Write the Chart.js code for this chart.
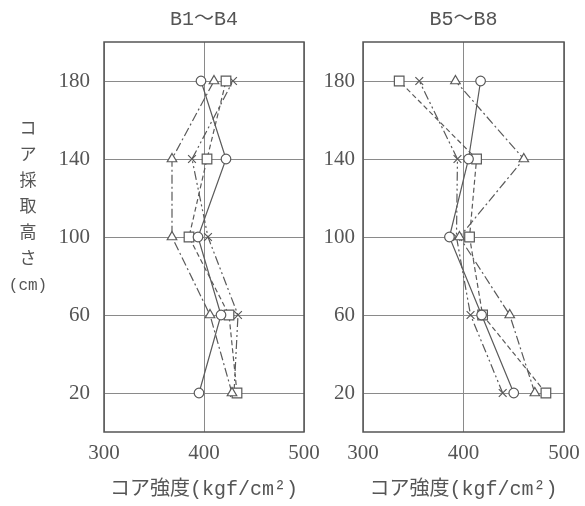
<!DOCTYPE html>
<html>
<head>
<meta charset="utf-8">
<script src="https://cdn.jsdelivr.net/npm/chart.js@4.4.1/dist/chart.umd.min.js"></script>
<style>
  html, body { margin: 0; padding: 0; background: #fff; }
  #wrap { position: relative; width: 585px; height: 506px; overflow: hidden; }
  canvas { position: absolute; top: 0; }
  #ytitle { position: absolute; left: 8px; top: 114px; width: 40px; text-align: center;
            font-family: 'Noto Sans CJK JP', sans-serif; font-size: 17px; line-height: 26px; color: #555; }
  #ytitle .cm { font-family: 'Liberation Mono', 'Noto Sans CJK JP', monospace; font-size: 16px; }
</style>
</head>
<body>
<div id="wrap">
  <canvas id="c1" width="330" height="506" style="left:0px"></canvas>
  <canvas id="c2" width="270" height="506" style="left:315px"></canvas>
  <div id="ytitle">コ<br>ア<br>採<br>取<br>高<br>さ<br><span class="cm">(cm)</span></div>
</div>
<script>
// ---- data ----
const heights = [20, 60, 100, 140, 180];           // コア採取高さ (cm)
const xTicks = [300, 400, 500];
const yTicks = [20, 60, 100, 140, 180];

// B1～B4 (kgf/cm2) at heights 20,60,100,140,180
const left_circle   = [395, 417, 394, 422, 397];
const left_triangle = [428, 406, 368, 368, 410];
const left_square   = [433, 425, 385, 403, 422];
const left_cross    = [430, 434, 404, 388, 429];

// B5～B8
const right_circle   = [450, 418, 386, 405, 417];
const right_triangle = [471, 446, 396, 460, 392];
const right_square   = [482, 419, 406, 413, 336];
const right_cross    = [439, 407, 393, 394, 356];

const titles = ['B1～B4', 'B5～B8'];
const xTitle = 'コア強度(kgf/cm²)';

const INK = '#555';
const LINE = '#5a5a5a';
const GRID = '#8a8a8a';

function pts(vals) { return vals.map((v, i) => ({ x: v, y: heights[i] })); }

const RADIUS = { circle: 4.8, triangle: 5.5, rect: 6.8, crossRot: 5.5 };

function ds(vals, style, dash) {
  return {
    data: pts(vals),
    borderColor: LINE,
    borderWidth: 1.2,
    borderDash: dash,
    pointStyle: style,
    pointRadius: RADIUS[style],
    pointBorderColor: LINE,
    pointBackgroundColor: '#fff',
    pointBorderWidth: 1.2,
    tension: 0,
    fill: false
  };
}

const frame = {
  id: 'frame',
  afterDraw(chart) {
    const a = chart.chartArea, ctx = chart.ctx;
    ctx.save();
    ctx.strokeStyle = INK;
    ctx.lineWidth = 1.5;
    ctx.strokeRect(a.left, a.top, a.right - a.left, a.bottom - a.top);
    ctx.restore();
  }
};

function make(id, title, sets, yWidth, padRight, yPad) {
  return new Chart(document.getElementById(id), {
    type: 'line',
    data: { datasets: sets },
    options: {
      responsive: false,
      animation: false,
      layout: { padding: { left: 0, right: padRight, top: 0, bottom: 0 } },
      plugins: {
        legend: { display: false },
        tooltip: { enabled: false },
        title: {
          display: true, text: title, fullSize: false, color: INK,
          font: { family: "'Liberation Mono', 'Noto Sans CJK JP'", size: 20, weight: 'normal', lineHeight: 1.2 },
          padding: { top: 8, bottom: 10 }
        }
      },
      scales: {
        x: {
          type: 'linear', min: 300, max: 500,
          afterBuildTicks(s) { s.ticks = xTicks.map(v => ({ value: v })); },
          afterFit(s) { s.height = 74; s.paddingLeft = 0; s.paddingRight = 0; },
          grid: { color: GRID, lineWidth: 1, drawTicks: false },
          border: { display: false },
          ticks: { color: INK, padding: 9, maxRotation: 0, font: { family: "'Liberation Serif'", size: 21 } },
          title: {
            display: true, text: xTitle, color: INK,
            font: { family: "'Liberation Mono', 'Noto Sans CJK JP'", size: 20, weight: 'normal', lineHeight: 1.2 },
            padding: { top: 0, bottom: 4 }
          }
        },
        y: {
          type: 'linear', min: 0, max: 200,
          afterBuildTicks(s) { s.ticks = yTicks.map(v => ({ value: v })); },
          afterFit(s) { s.width = yWidth; s.paddingTop = 0; s.paddingBottom = 0; },
          grid: { color: GRID, lineWidth: 1, drawTicks: false },
          border: { display: false },
          ticks: { color: INK, padding: yPad, font: { family: "'Liberation Serif'", size: 21 } }
        }
      }
    },
    plugins: [frame]
  });
}

make('c1', titles[0], [
  ds(left_circle, 'circle', []),
  ds(left_triangle, 'triangle', [9, 3, 2, 3]),
  ds(left_square, 'rect', [5, 3]),
  ds(left_cross, 'crossRot', [9, 3, 2, 3, 2, 3])
], 104, 26, 14);

make('c2', titles[1], [
  ds(right_circle, 'circle', []),
  ds(right_triangle, 'triangle', [9, 3, 2, 3]),
  ds(right_square, 'rect', [5, 3]),
  ds(right_cross, 'crossRot', [9, 3, 2, 3, 2, 3])
], 48, 21, 8);
</script>
</body>
</html>
